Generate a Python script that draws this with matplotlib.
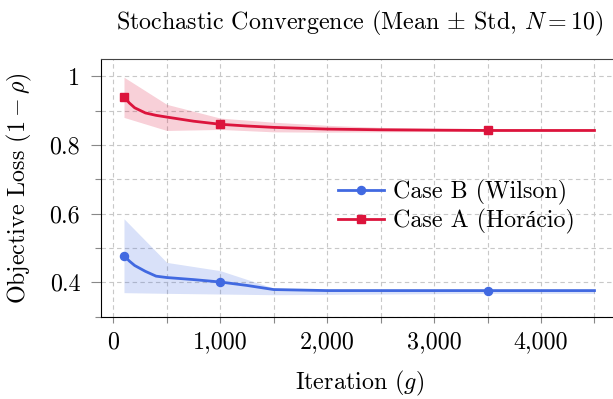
import matplotlib
matplotlib.use("Agg")
from matplotlib import pyplot as plt
from matplotlib.ticker import MultipleLocator, FuncFormatter

# cmr10 has no accented letters, so fall back to a serif family for 'á'
plt.rcParams['font.family'] = ['cmr10', 'Liberation Serif']
plt.rcParams['mathtext.fontset'] = 'cm'
plt.rcParams['axes.formatter.use_mathtext'] = True
plt.rcParams['font.size'] = 17.3

# mean curves
iters = [100, 150, 200, 300, 400, 500, 750, 1000, 1250, 1500, 2000, 2500, 3000, 3500, 4000, 4500]
loss_a = [0.940, 0.922, 0.908, 0.893, 0.886, 0.881, 0.869, 0.860, 0.855, 0.851, 0.846, 0.844, 0.843, 0.842, 0.842, 0.842]
loss_b = [0.478, 0.462, 0.449, 0.432, 0.418, 0.414, 0.408, 0.401, 0.391, 0.379, 0.376, 0.376, 0.376, 0.376, 0.376, 0.376]
mark_iters = [100, 1000, 3500]

# std bands (upper / lower)
band_iters = [100, 500, 1000, 1500, 2000, 2500, 3000, 3500, 4000, 4500]
a_upper = [0.997, 0.918, 0.878, 0.866, 0.857, 0.851, 0.848, 0.846, 0.845, 0.845]
a_lower = [0.880, 0.842, 0.845, 0.838, 0.837, 0.838, 0.839, 0.840, 0.840, 0.840]
b_upper = [0.585, 0.458, 0.434, 0.383, 0.380, 0.379, 0.378, 0.378, 0.378, 0.378]
b_lower = [0.370, 0.368, 0.366, 0.364, 0.365, 0.366, 0.367, 0.368, 0.368, 0.368]

red = '#DC143C'
blue = '#4169E1'

fig = plt.figure(figsize=(6.13, 3.99), dpi=100)
ax = fig.add_axes([101/613, 1-316.7/399, (618-101)/613, (316.7-59)/399])

marks = [iters.index(m) for m in mark_iters]

ax.fill_between(band_iters, b_lower, b_upper, color=blue, alpha=0.2, lw=0)
ax.fill_between(band_iters, a_lower, a_upper, color=red, alpha=0.2, lw=0)
ax.plot(iters, loss_b, color=blue, lw=2.0, marker='o', ms=5.8, markevery=marks,
        label='Case B (Wilson)', zorder=3)
ax.plot(iters, loss_a, color=red, lw=2.0, marker='s', ms=6.2, markevery=marks,
        label='Case A (Horácio)', zorder=3)

ax.set_xlim(-115, 4720)
ax.set_ylim(0.3, 1.05)
ax.xaxis.set_major_locator(MultipleLocator(1000))
ax.xaxis.set_minor_locator(MultipleLocator(500))
ax.yaxis.set_major_locator(MultipleLocator(0.2))
ax.yaxis.set_minor_locator(MultipleLocator(0.1))
ax.xaxis.set_major_formatter(FuncFormatter(lambda v, p: '{:,.0f}'.format(v)))
ax.yaxis.set_major_formatter(FuncFormatter(lambda v, p: '{:g}'.format(round(v, 2))))

ax.grid(True, which='both', color='#c8c8c8', ls=(0, (4, 3)), lw=0.8)
ax.set_axisbelow(True)
ax.tick_params(axis='x', which='both', direction='out', length=4.5, width=0.8, color='#888888', pad=6)
ax.tick_params(axis='y', which='major', direction='out', length=7, width=0.8, color='#888888', pad=8)
ax.tick_params(axis='y', which='minor', direction='out', length=4.5, width=0.8, color='#888888')

ax.spines['right'].set_visible(False)
ax.spines['top'].set_color('#444444')
for s in ['left', 'bottom']:
    ax.spines[s].set_color('black')

ax.set_xlabel('Iteration $(g)$', labelpad=11)
ax.set_ylabel(r'Objective Loss $(1-\rho)$', labelpad=11)
ax.set_title(r'Stochastic Convergence (Mean $\pm$ Std, $N=10$)', pad=21, fontsize=17.3)

ax.legend(loc='upper left', bbox_to_anchor=(338/613, 1-180/399), bbox_transform=fig.transFigure,
          frameon=False, borderpad=0, borderaxespad=0, handlelength=1.9,
          handletextpad=0.37, labelspacing=0.15)

fig.savefig('out.png', dpi=100)
